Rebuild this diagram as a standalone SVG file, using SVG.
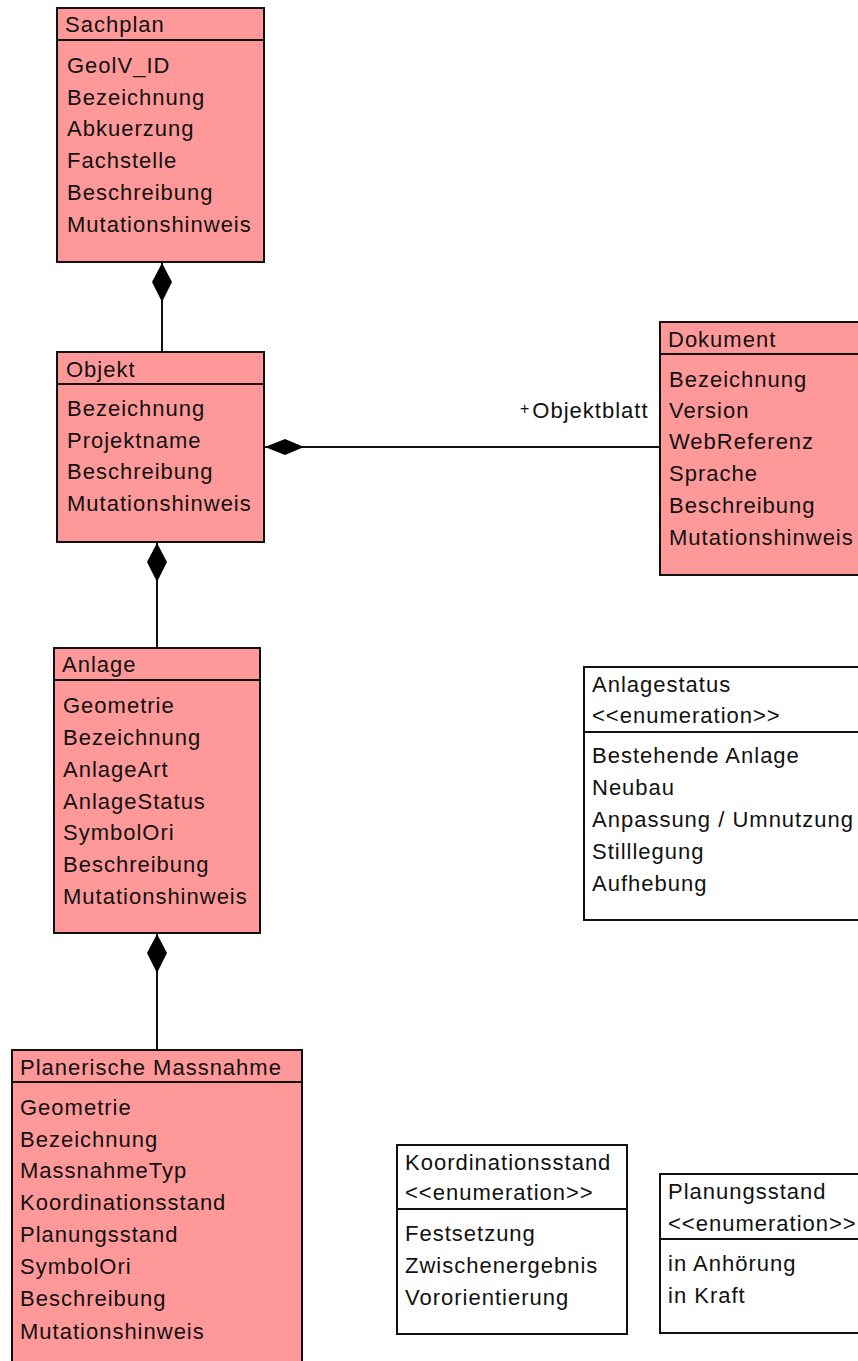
<svg xmlns="http://www.w3.org/2000/svg" width="858" height="1361" viewBox="0 0 858 1361">
<style>
.box{fill:#FF9999;stroke:#111;stroke-width:2}
.enum{fill:#fff;stroke:#111;stroke-width:2}
.sep{stroke:#111;stroke-width:2;fill:none}
text{font-family:"Liberation Sans",Arial,sans-serif;font-size:22px;letter-spacing:1px;fill:#111}
.conn{stroke:#111;stroke-width:2;fill:none}
.dia{fill:#000;stroke:none}
</style>
<rect width="858" height="1361" fill="#fff"/>

<g id="connectors">
<line class="conn" x1="162" y1="262" x2="162" y2="352"/>
<polygon class="dia" points="162,263 172,282 162,302 152,282"/>
<line class="conn" x1="157" y1="542" x2="157" y2="648"/>
<polygon class="dia" points="157,543 167,562 157,582 147,562"/>
<line class="conn" x1="157" y1="933" x2="157" y2="1050"/>
<polygon class="dia" points="157,934 167,953 157,973 147,953"/>
<line class="conn" x1="264" y1="447" x2="660" y2="447"/>
<polygon class="dia" points="265,447 285,439 304,447 285,455"/>
<text x="520" y="418"><tspan font-size="16" dy="-4">+</tspan><tspan dy="4" dx="2">Objektblatt</tspan></text>
</g>

<g id="Sachplan">
<rect class="box" x="57" y="8" width="207" height="254"/>
<line class="sep" x1="57" y1="40" x2="264" y2="40"/>
<text x="65" y="32">Sachplan</text>
<text x="67" y="73">GeolV_ID</text>
<text x="67" y="105">Bezeichnung</text>
<text x="67" y="136">Abkuerzung</text>
<text x="67" y="168">Fachstelle</text>
<text x="67" y="200">Beschreibung</text>
<text x="67" y="232">Mutationshinweis</text>
</g>

<g id="Objekt">
<rect class="box" x="57" y="352" width="207" height="190"/>
<line class="sep" x1="57" y1="384" x2="264" y2="384"/>
<text x="66" y="377">Objekt</text>
<text x="67" y="416">Bezeichnung</text>
<text x="67" y="448">Projektname</text>
<text x="67" y="479">Beschreibung</text>
<text x="67" y="511">Mutationshinweis</text>
</g>

<g id="Dokument">
<rect class="box" x="660" y="322" width="220" height="253"/>
<line class="sep" x1="660" y1="354" x2="880" y2="354"/>
<text x="668" y="347">Dokument</text>
<text x="669" y="387">Bezeichnung</text>
<text x="669" y="418">Version</text>
<text x="669" y="449">WebReferenz</text>
<text x="669" y="481">Sprache</text>
<text x="669" y="513">Beschreibung</text>
<text x="669" y="545">Mutationshinweis</text>
</g>

<g id="Anlage">
<rect class="box" x="54" y="648" width="206" height="285"/>
<line class="sep" x1="54" y1="680" x2="260" y2="680"/>
<text x="62" y="672">Anlage</text>
<text x="63" y="713">Geometrie</text>
<text x="63" y="745">Bezeichnung</text>
<text x="63" y="777">AnlageArt</text>
<text x="63" y="809">AnlageStatus</text>
<text x="63" y="840">SymbolOri</text>
<text x="63" y="872">Beschreibung</text>
<text x="63" y="904">Mutationshinweis</text>
</g>

<g id="PlanerischeMassnahme">
<rect class="box" x="12" y="1050" width="290" height="320"/>
<line class="sep" x1="12" y1="1082" x2="302" y2="1082"/>
<text x="20" y="1075">Planerische Massnahme</text>
<text x="20" y="1115">Geometrie</text>
<text x="20" y="1147">Bezeichnung</text>
<text x="20" y="1178">MassnahmeTyp</text>
<text x="20" y="1210">Koordinationsstand</text>
<text x="20" y="1242">Planungsstand</text>
<text x="20" y="1274">SymbolOri</text>
<text x="20" y="1306">Beschreibung</text>
<text x="20" y="1339">Mutationshinweis</text>
</g>

<g id="Anlagestatus">
<rect class="enum" x="584" y="667" width="290" height="253"/>
<line class="sep" x1="584" y1="732" x2="874" y2="732"/>
<text x="592" y="692">Anlagestatus</text>
<text x="592" y="723">&lt;&lt;enumeration&gt;&gt;</text>
<text x="592" y="763">Bestehende Anlage</text>
<text x="592" y="795">Neubau</text>
<text x="592" y="827">Anpassung / Umnutzung</text>
<text x="592" y="859">Stilllegung</text>
<text x="592" y="891">Aufhebung</text>
</g>

<g id="Koordinationsstand">
<rect class="enum" x="397" y="1145" width="230" height="189"/>
<line class="sep" x1="397" y1="1209" x2="627" y2="1209"/>
<text x="405" y="1170">Koordinationsstand</text>
<text x="405" y="1200">&lt;&lt;enumeration&gt;&gt;</text>
<text x="405" y="1241">Festsetzung</text>
<text x="405" y="1273">Zwischenergebnis</text>
<text x="405" y="1305">Vororientierung</text>
</g>

<g id="Planungsstand">
<rect class="enum" x="660" y="1174" width="220" height="159"/>
<line class="sep" x1="660" y1="1239" x2="880" y2="1239"/>
<text x="668" y="1199">Planungsstand</text>
<text x="668" y="1231">&lt;&lt;enumeration&gt;&gt;</text>
<text x="668" y="1271">in Anhörung</text>
<text x="668" y="1303">in Kraft</text>
</g>
</svg>
